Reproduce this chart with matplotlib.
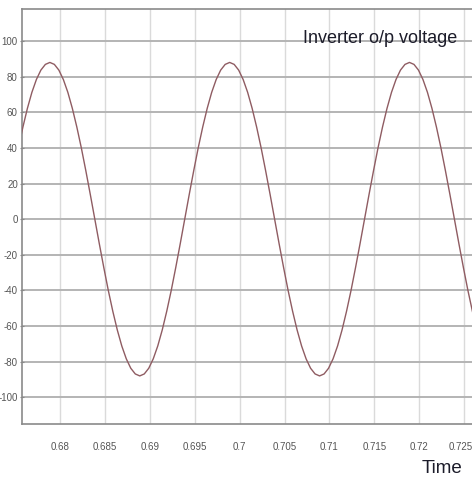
import numpy as np
import matplotlib
matplotlib.use('Agg')
import matplotlib.pyplot as plt
from matplotlib.transforms import ScaledTranslation

# sample times (s), one every 0.5 ms
t_start = 0.6754
t_end = 0.7264
# inverter output voltage at those times (V)
voltage = [40.0, 51.7, 62.2, 71.2, 78.4, 83.7, 86.9, 88.0,
           86.9, 83.7, 78.4, 71.2, 62.2, 51.7, 40.0, 27.2, 13.8, 0.0,
           -13.8, -27.2, -40.0, -51.7, -62.2, -71.2, -78.4, -83.7, -86.9, -88.0,
           -86.9, -83.7, -78.4, -71.2, -62.2, -51.7, -40.0, -27.2, -13.8, 0.0,
           13.8, 27.2, 40.0, 51.7, 62.2, 71.2, 78.4, 83.7, 86.9, 88.0,
           86.9, 83.7, 78.4, 71.2, 62.2, 51.7, 40.0, 27.2, 13.8, 0.0,
           -13.8, -27.2, -40.0, -51.7, -62.2, -71.2, -78.4, -83.7, -86.9, -88.0,
           -86.9, -83.7, -78.4, -71.2, -62.2, -51.7, -40.0, -27.2, -13.8, 0.0,
           13.8, 27.2, 40.0, 51.7, 62.2, 71.2, 78.4, 83.7, 86.9, 88.0,
           86.9, 83.7, 78.4, 71.2, 62.2, 51.7, 40.0, 27.2, 13.8, 0.0,
           -13.8, -27.2, -40.0, -51.7, -62.2]
time = np.linspace(t_start, t_end, len(voltage))

x_ticks = [0.68, 0.685, 0.69, 0.695, 0.7, 0.705, 0.71, 0.715, 0.72, 0.725]
y_ticks = [-100, -80, -60, -40, -20, 0, 20, 40, 60, 80, 100]
title_text = 'Inverter o/p voltage'
xlabel_text = 'Time'

font = ['Liberation Sans', 'DejaVu Sans']

W, H = 472, 479
fig = plt.figure(figsize=(W / 100, H / 100), dpi=100)
ax = fig.add_axes([22 / W, 1 - 424 / H, 454 / W, 415 / H])

ax.plot(time, voltage, color='#8f5c62', lw=1.0, zorder=3)

ax.set_xlim(0.6758, 0.7263)
ax.set_ylim(-115, 118)
ax.set_xticks(x_ticks)
ax.set_xticklabels(['%g' % v for v in x_ticks])
ax.set_yticks(y_ticks)
ax.set_yticklabels(['%g' % v for v in y_ticks])

# horizontal grid darker than vertical
ax.grid(axis='y', color='#b4b4b4', lw=1.4, zorder=1)
ax.grid(axis='x', color='#dadada', lw=1.0, zorder=1)

for s in ['left', 'bottom', 'top']:
    ax.spines[s].set_color('#8a8a8a')
    ax.spines[s].set_linewidth(1.2)
ax.spines['right'].set_visible(False)

ax.tick_params(axis='x', length=0, pad=13, labelsize=7, labelcolor='#555555')
ax.tick_params(axis='y', length=3, direction='inout', color='#8a8a8a', pad=1.5,
               labelsize=7, labelcolor='#555555')
for lab in ax.get_xticklabels() + ax.get_yticklabels():
    lab.set_family(font)
# last x label sits at the picture's edge; nudge it in a little
last = ax.get_xticklabels()[-1]
last.set_transform(last.get_transform() + ScaledTranslation(-0.04, 0, fig.dpi_scale_trans))

fig.text(457 / W, 1 - 43 / H, title_text, fontsize=13, family=font,
         color='#1c1c2a', ha='right', va='baseline')
fig.text(442 / W, 1 - 473 / H, xlabel_text, fontsize=13.5, family=font,
         color='#1c1c2a', ha='center', va='baseline')

fig.savefig('out.png', dpi=100, facecolor='white')
